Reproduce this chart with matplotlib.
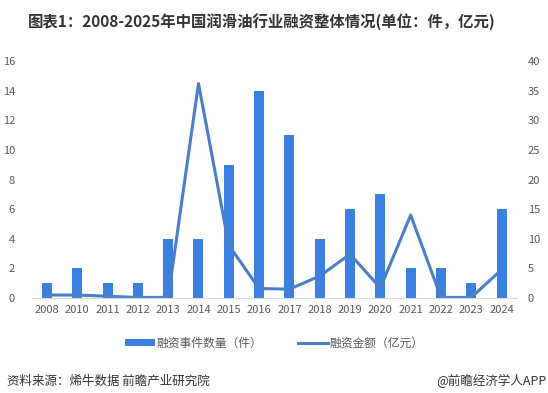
import matplotlib
matplotlib.use("Agg")
import matplotlib.pyplot as plt
import numpy as np

plt.rcParams['font.family'] = ['Noto Sans CJK SC', 'DejaVu Sans']

years = ['2008', '2010', '2011', '2012', '2013', '2014', '2015', '2016',
         '2017', '2018', '2019', '2020', '2021', '2022', '2023', '2024']
event_counts = [1, 2, 1, 1, 4, 4, 9, 14, 11, 4, 6, 7, 2, 2, 1, 6]
amounts = [0.5, 0.5, 0.3, 0.1, 0.1, 36.2, 8.9, 1.6, 1.5, 3.7, 7.4, 1.7, 14.0, 0.1, 0.1, 4.8]

bar_color = '#3A80E0'
line_color = '#4A7EC8'
tick_color = '#595959'

fig = plt.figure(figsize=(5.48, 3.93), dpi=100)
ax = fig.add_axes([0.058, 0.2417, 0.885, 0.6031])
ax2 = ax.twinx()

x = np.arange(len(years))
ax.bar(x, event_counts, width=0.33, color=bar_color, zorder=2, label='融资事件数量（件）')
ax2.plot(x, amounts, color=line_color, lw=2.2, zorder=3, label='融资金额（亿元）')

ax.set_xlim(-0.5, len(years) - 0.5)
ax.set_ylim(0, 16)
ax.set_yticks(np.arange(0, 17, 2))
ax2.set_ylim(0, 40)
ax2.set_yticks(np.arange(0, 41, 5))
ax.set_xticks(x)
ax.set_xticklabels(years)

for a in (ax, ax2):
    for s in a.spines.values():
        s.set_visible(False)
    a.tick_params(length=0, labelsize=8, colors=tick_color)
ax.spines['bottom'].set_visible(True)
ax.spines['bottom'].set_color('#D9D9D9')
ax.tick_params(axis='y', pad=12)
ax2.tick_params(axis='y', pad=8)
ax.tick_params(axis='x', pad=5)

fig.text(0.478, 0.944, '图表1：2008-2025年中国润滑油行业融资整体情况(单位：件，亿元)',
         ha='center', va='center', fontsize=11.1, fontweight='bold', color='#333333')

h1, l1 = ax.get_legend_handles_labels()
h2, l2 = ax2.get_legend_handles_labels()
fig.legend(h1 + h2, l1 + l2, loc='center', bbox_to_anchor=(0.5, 0.127), ncol=2,
           frameon=False, fontsize=8.5, labelcolor=tick_color, handlelength=2.6,
           handletextpad=0.1, columnspacing=3.0, handleheight=0.5)

fig.text(0.013, 0.03, '资料来源：烯牛数据 前瞻产业研究院', ha='left', va='center',
         fontsize=9, color='#333333')
fig.text(0.998, 0.03, '@前瞻经济学人APP', ha='right', va='center',
         fontsize=9, color='#333333')

fig.savefig('out.png', dpi=100)
